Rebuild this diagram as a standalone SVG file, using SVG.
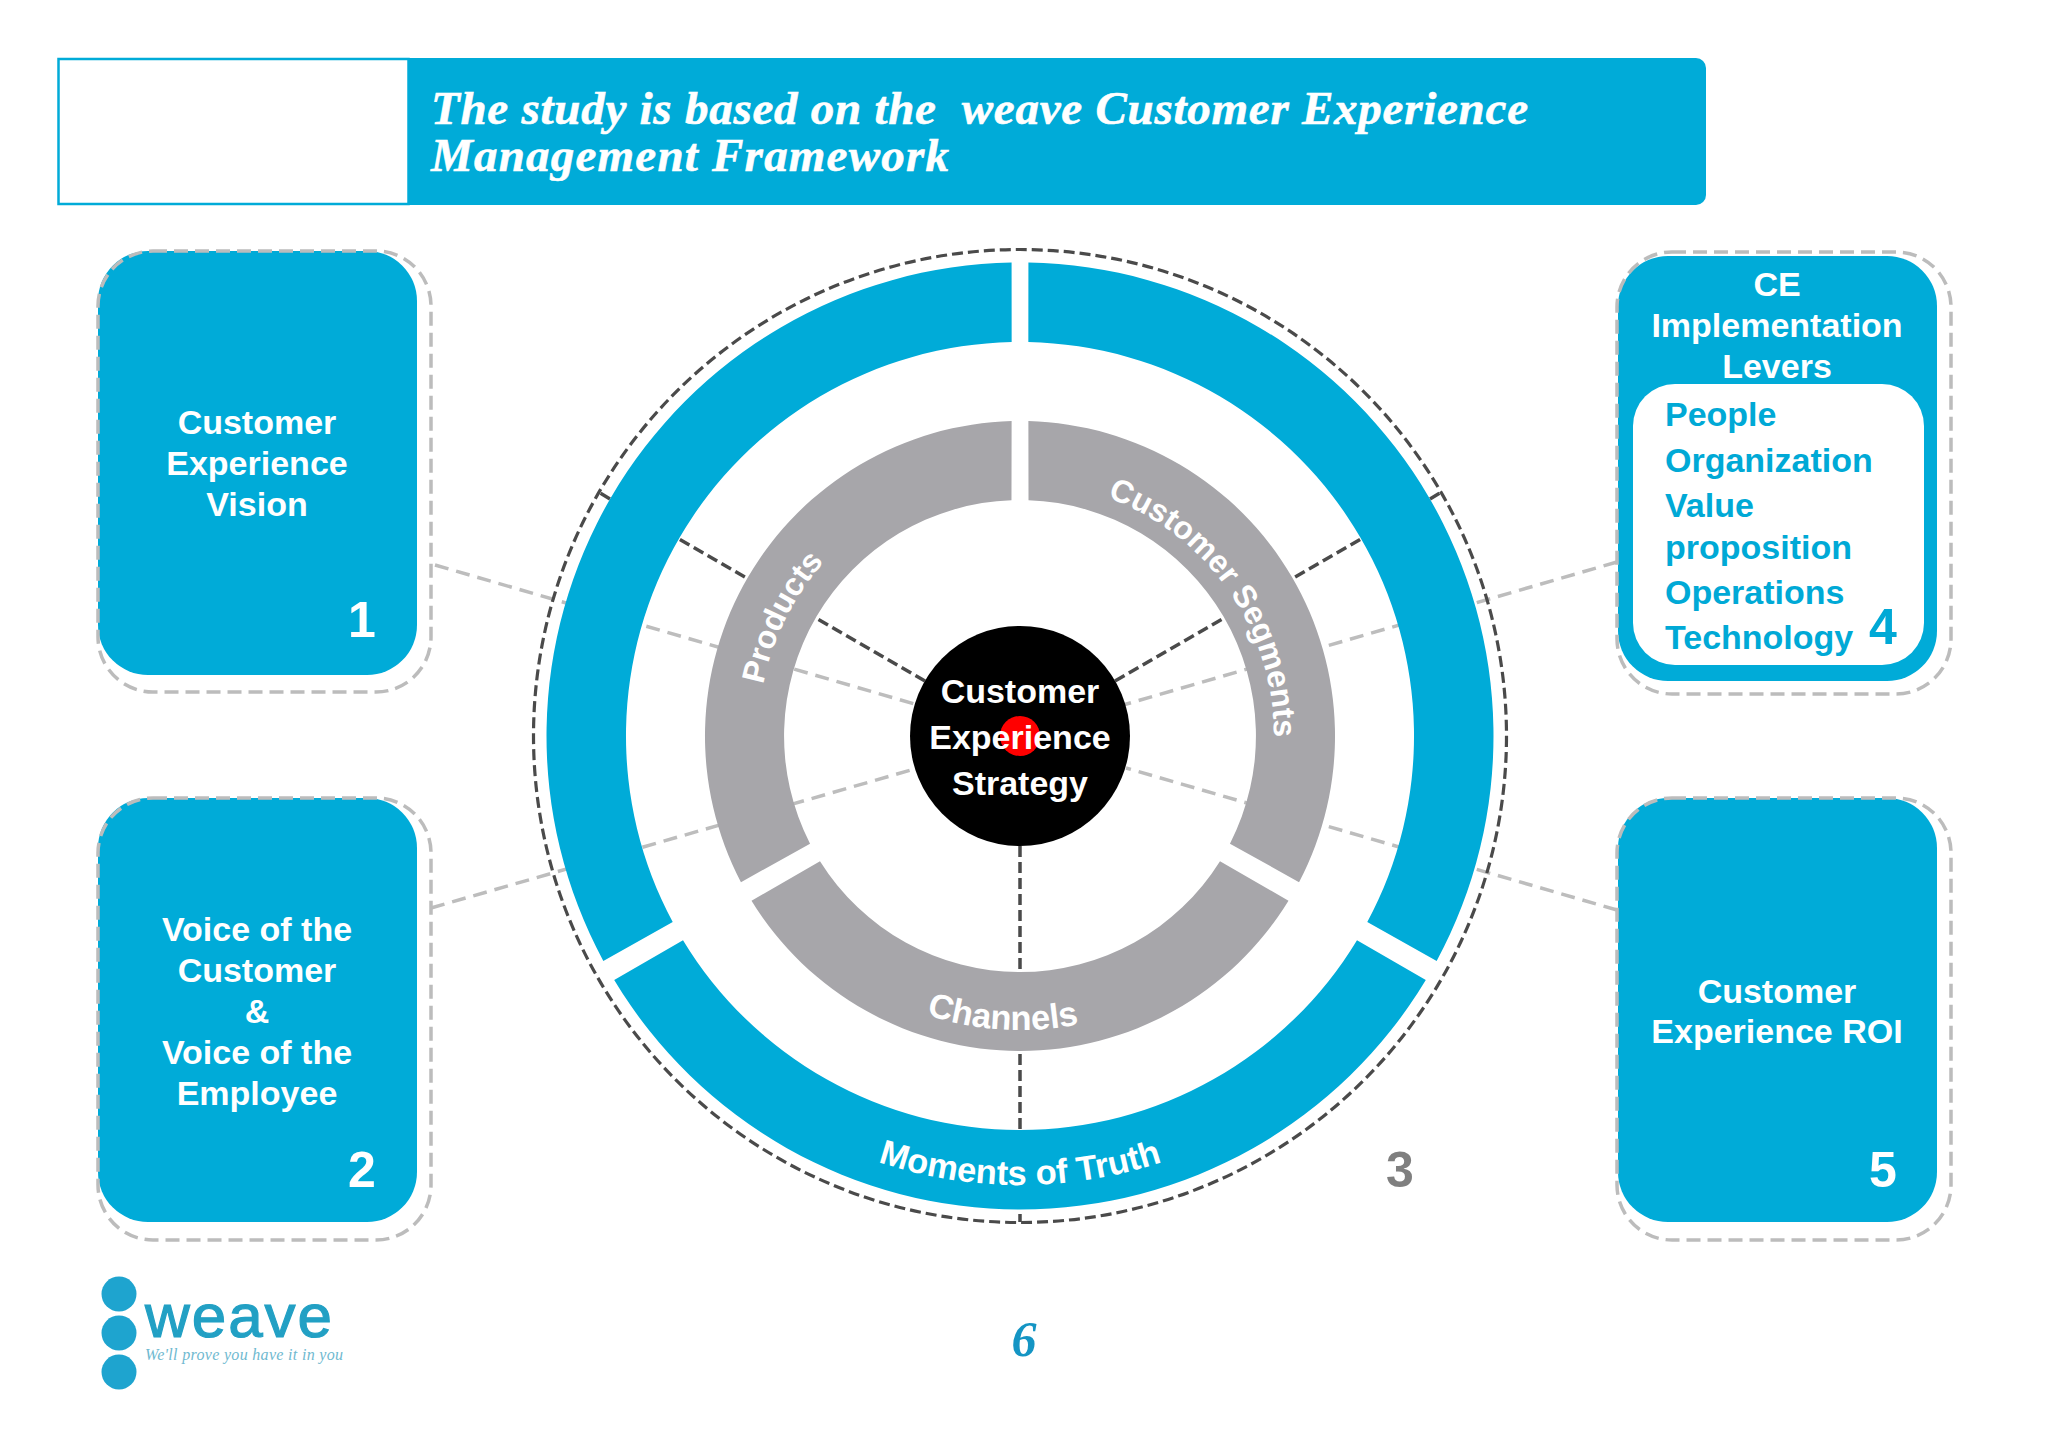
<svg xmlns="http://www.w3.org/2000/svg" xmlns:xlink="http://www.w3.org/1999/xlink" width="2048" height="1448" viewBox="0 0 2048 1448">
<style>
.sans{font-family:"Liberation Sans",Arial,sans-serif;font-weight:700}
.lbl{font-size:34px;fill:#fff;text-anchor:middle}
.num{font-size:50px;fill:#fff;text-anchor:middle}
.list{font-size:34px;fill:#00a9d6}
.arc{font-size:34.500px;fill:#fff;text-anchor:middle}
.arcs{font-size:32px;fill:#fff;text-anchor:middle}
.blue{fill:#00abd8}
.gray{fill:#a7a6aa}
.card{fill:none;stroke:#bcbcbc;stroke-width:3.500;stroke-dasharray:14 7}
.lt{stroke:#bdbdbd;stroke-width:3.500;stroke-dasharray:14 8;fill:none}
.dk{stroke:#4a4a4a;stroke-width:3.500;stroke-dasharray:11 5;fill:none}
.title{font-family:"Liberation Serif","Times New Roman",serif;font-weight:700;font-style:italic;font-size:47px;fill:#fff;stroke:#fff;stroke-width:.6;white-space:pre}
</style>
<defs>
<path id="b" d="M-405.8 -244A473.5 473.5 0 0 1 405.8 -244L337 -204.2A394 394 0 0 0 -337 -204.2Z"/>
<path id="bR" d="M-405.8 -244A473.5 473.5 0 0 1 403.1 -248.4L334.8 -207.7A394 394 0 0 0 -337 -204.2Z"/>
<path id="bL" d="M-403.1 -248.4A473.5 473.5 0 0 1 405.8 -244L337 -204.2A394 394 0 0 0 -334.8 -207.7Z"/>
<path id="g" d="M-268.5 -164.7A315 315 0 0 1 268.5 -164.7L200 -125.3A236 236 0 0 0 -200 -125.3Z"/>
<path id="gR" d="M-268.5 -164.7A315 315 0 0 1 266.1 -168.6L198.2 -128A236 236 0 0 0 -200 -125.3Z"/>
<path id="gL" d="M-266.1 -168.6A315 315 0 0 1 268.5 -164.7L200 -125.3A236 236 0 0 0 -198.2 -128Z"/>
<path id="arcCS" d="M-254 0A254 254 0 0 1 254 0"/>
<path id="arcPr" d="M-262 0A262 262 0 0 1 262 0"/>
<path id="arcCh" d="M-294 0A294 294 0 0 0 294 0"/>
<path id="arcMo" d="M-449 0A449 449 0 0 0 449 0"/>
</defs>
<rect width="2048" height="1448" fill="#fff"/>
<g id="banner">
<path class="blue" d="M407 58H1696a10 10 0 0 1 10 10V195a10 10 0 0 1 -10 10H407Z"/>
<rect x="58.500" y="59" width="350" height="145" fill="#fff" stroke="#00abd8" stroke-width="2.500"/>
<text class="title" x="431" y="124" textLength="1097" lengthAdjust="spacing">The study is based on the  weave Customer Experience</text>
<text class="title" x="431" y="171" textLength="518" lengthAdjust="spacing">Management Framework</text>
</g>
<g id="connectors">
<path class="lt" d="M435 565L918 705M431 908L918 768M1617 562L1123 705M1617 910L1126 768"/>
<path class="dk" d="M925 681L679 539M1115 681L1361 539M1020 846V1222"/>
<path class="dk" d="M610 499L600 493M1430 499L1440 493"/>
</g>
<g id="card1">
<rect class="blue" x="98" y="251" width="319" height="424" rx="50"/>
<rect class="card" x="98" y="251" width="333" height="441" rx="55"/>
<text class="sans lbl"><tspan x="257" y="434">Customer</tspan><tspan x="257" y="475">Experience</tspan><tspan x="257" y="516">Vision</tspan></text>
<text class="sans num" x="362" y="637">1</text>
</g>
<g id="card2">
<rect class="blue" x="98" y="798" width="319" height="424" rx="50"/>
<rect class="card" x="98" y="798" width="333" height="442" rx="55"/>
<text class="sans lbl"><tspan x="257" y="941">Voice of the</tspan><tspan x="257" y="982">Customer</tspan><tspan x="257" y="1023">&amp;</tspan><tspan x="257" y="1064">Voice of the</tspan><tspan x="257" y="1105">Employee</tspan></text>
<text class="sans num" x="362" y="1187">2</text>
</g>
<g id="card4">
<rect class="blue" x="1618" y="256" width="319" height="425" rx="50"/>
<rect class="card" x="1617" y="252" width="334" height="442" rx="55"/>
<rect x="1633" y="384" width="291" height="281" rx="42" fill="#fff"/>
<text class="sans lbl"><tspan x="1777" y="296">CE</tspan><tspan x="1777" y="337">Implementation</tspan><tspan x="1777" y="378">Levers</tspan></text>
<text class="sans list"><tspan x="1665" y="426">People</tspan><tspan x="1665" y="472">Organization</tspan><tspan x="1665" y="517">Value</tspan><tspan x="1665" y="559">proposition</tspan><tspan x="1665" y="604">Operations</tspan><tspan x="1665" y="649">Technology</tspan></text>
<text class="sans num" style="fill:#00a9d6" x="1883" y="644">4</text>
</g>
<g id="card5">
<rect class="blue" x="1618" y="798" width="319" height="424" rx="50"/>
<rect class="card" x="1617" y="798" width="334" height="442" rx="55"/>
<text class="sans lbl"><tspan x="1777" y="1003">Customer</tspan><tspan x="1777" y="1043">Experience ROI</tspan></text>
<text class="sans num" x="1883" y="1187">5</text>
</g>
<g id="wheel">
<circle cx="1020" cy="736" r="486.500" fill="none" stroke="#4a4a4a" stroke-width="3.200" stroke-dasharray="11 5"/>
<g transform="translate(1020 736)">
<use href="#bR" class="blue" transform="rotate(60)"/>
<use href="#bL" class="blue" transform="rotate(300)"/>
<use href="#b" class="blue" transform="rotate(180)"/>
<use href="#gR" class="gray" transform="rotate(60)"/>
<use href="#gL" class="gray" transform="rotate(300)"/>
<use href="#g" class="gray" transform="rotate(180)"/>
<g transform="rotate(55.200)"><text class="sans arcs"><textPath href="#arcCS" startOffset="50%">Customer Segments</textPath></text></g>
<g transform="rotate(-63.500)"><text class="sans arcs"><textPath href="#arcPr" startOffset="50%">Products</textPath></text></g>
<g transform="rotate(3.500)"><text class="sans arc"><textPath href="#arcCh" startOffset="50%">Channels</textPath></text></g>
<g><text class="sans arc"><textPath href="#arcMo" startOffset="50%">Moments of Truth</textPath></text></g>
</g>
</g>
<g id="core">
<circle cx="1020" cy="736" r="110" fill="#000"/>
<circle cx="1020" cy="736" r="20" fill="#f00"/>
<text class="sans lbl"><tspan x="1020" y="703">Customer</tspan><tspan x="1020" y="749">Experience</tspan><tspan x="1020" y="795">Strategy</tspan></text>
</g>
<text class="sans num" style="fill:#7f7f7f" x="1400" y="1187">3</text>
<text x="1024" y="1356" text-anchor="middle" style="font-family:'Liberation Serif',serif;font-weight:700;font-style:italic;font-size:50px;fill:#1495c4">6</text>
<g id="logo">
<circle cx="119" cy="1294" r="17.500" fill="#1ea4cf"/>
<circle cx="119" cy="1333" r="17.500" fill="#1ea4cf"/>
<circle cx="119" cy="1372" r="17.500" fill="#1ea4cf"/>
<text x="145" y="1337" textLength="187" lengthAdjust="spacing" style="font-family:'Liberation Sans',sans-serif;font-size:62px;fill:#22a0c4;stroke:#22a0c4;stroke-width:1.200">weave</text>
<text x="145" y="1360" textLength="198" lengthAdjust="spacing" style="font-family:'Liberation Serif',serif;font-style:italic;font-size:16px;fill:#6fb9d0">We'll prove you have it in you</text>
</g>
</svg>
